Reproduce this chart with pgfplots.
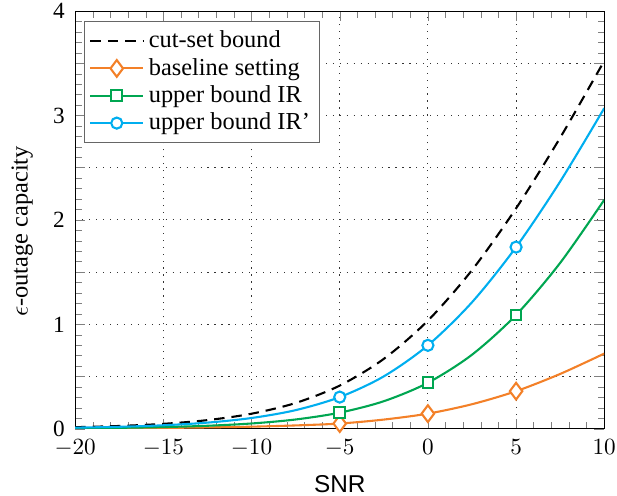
\documentclass[border=0pt]{standalone}
\usepackage{fontspec}
\setmainfont{Liberation Serif}
\setsansfont{Liberation Sans}
\usepackage{pgfplots}
\pgfplotsset{compat=1.18}
\definecolor{corange}{RGB}{243,128,40}
\definecolor{cgreen}{RGB}{0,166,81}
\definecolor{cblue}{RGB}{0,174,239}
\begin{document}
\begin{tikzpicture}
\begin{axis}[
  scale only axis, width=228pt, height=180pt,
  xmin=-20, xmax=10, ymin=0, ymax=4,
  xtick={-20,-15,...,10},
  ytick={0,0.5,...,4}, yticklabels={0,,1,,2,,3,,4},
  minor x tick num=4, minor y tick num=4,
  grid=major, major grid style={black!80, line width=0.4pt, dash pattern=on 0.5pt off 2.5pt},
  tick label style={inner sep=0.5pt},
  yticklabel style={inner ysep=1.5pt},
  xticklabel shift=3.8pt, yticklabel shift=3.8pt,
  xlabel={\textsf{SNR}}, ylabel={$\epsilon$-outage capacity},
  label style={font=\fontsize{10.5}{12.6}\selectfont},
  xlabel style={inner sep=1.5pt, yshift=-6pt},
  ylabel style={inner xsep=0.5pt, inner ysep=5pt, yshift=3pt, xshift=-5pt},
  legend style={at={(0.017,0.976)}, anchor=north west, draw=black!60,
    cells={anchor=west}, font=\fontsize{10.5}{12.5}\selectfont, inner sep=2pt,
    row sep=-1pt},
  legend cell align=left,
  legend image code/.code={\draw[mark repeat=2, mark phase=2, #1]
    plot coordinates {(0cm,0cm) (0.4cm,0cm) (0.8cm,0cm)};},
  legend image post style={mark indices={2}},
]
\addplot[black, line width=0.9pt, smooth, dash pattern=on 4.5pt off 3pt] coordinates {
(-20,0.0151) (-17.5,0.0267) (-15,0.0471) (-12.5,0.0828) (-10,0.1441)
(-7.5,0.2470) (-5,0.4136) (-2.5,0.6694) (0,1.0356) (2.5,1.5195)
(5,2.1111) (7.5,2.7875) (10,3.5236)};
\addlegendentry{cut-set bound}
\addplot[corange, line width=0.9pt, smooth, mark=diamond*, mark size=3.6pt,
  mark indices={7,9,11}, mark options={solid, fill=white}] coordinates {
(-20,0.003) (-17.5,0.005) (-15,0.008) (-12.5,0.013) (-10,0.020)
(-7.5,0.032) (-5,0.050) (-2.5,0.088) (0,0.145) (2.5,0.235)
(5,0.360) (7.5,0.525) (10,0.720)};
\addlegendentry{baseline setting}
\addplot[cgreen, line width=0.9pt, smooth, mark=square*, mark size=2.3pt,
  mark indices={7,9,11}, mark options={solid, fill=white}] coordinates {
(-20,0.0051) (-17.5,0.0091) (-15,0.0162) (-12.5,0.0287) (-10,0.0506)
(-7.5,0.0888) (-5,0.1543) (-2.5,0.2639) (0,0.4404) (2.5,0.7091)
(5,1.0901) (7.5,1.5885) (10,2.1922)};
\addlegendentry{upper bound IR}
\addplot[cblue, line width=0.9pt, smooth, mark=*, mark size=2.4pt,
  mark indices={7,9,11}, mark options={solid, fill=white}] coordinates {
(-20,0.0106) (-17.5,0.0189) (-15,0.0334) (-12.5,0.0588) (-10,0.1030)
(-7.5,0.1783) (-5,0.3033) (-2.5,0.5019) (0,0.7991) (2.5,1.2114)
(5,1.7398) (7.5,2.3677) (10,3.0704)};
\addlegendentry{upper bound IR'}
\end{axis}
\end{tikzpicture}
\end{document}
